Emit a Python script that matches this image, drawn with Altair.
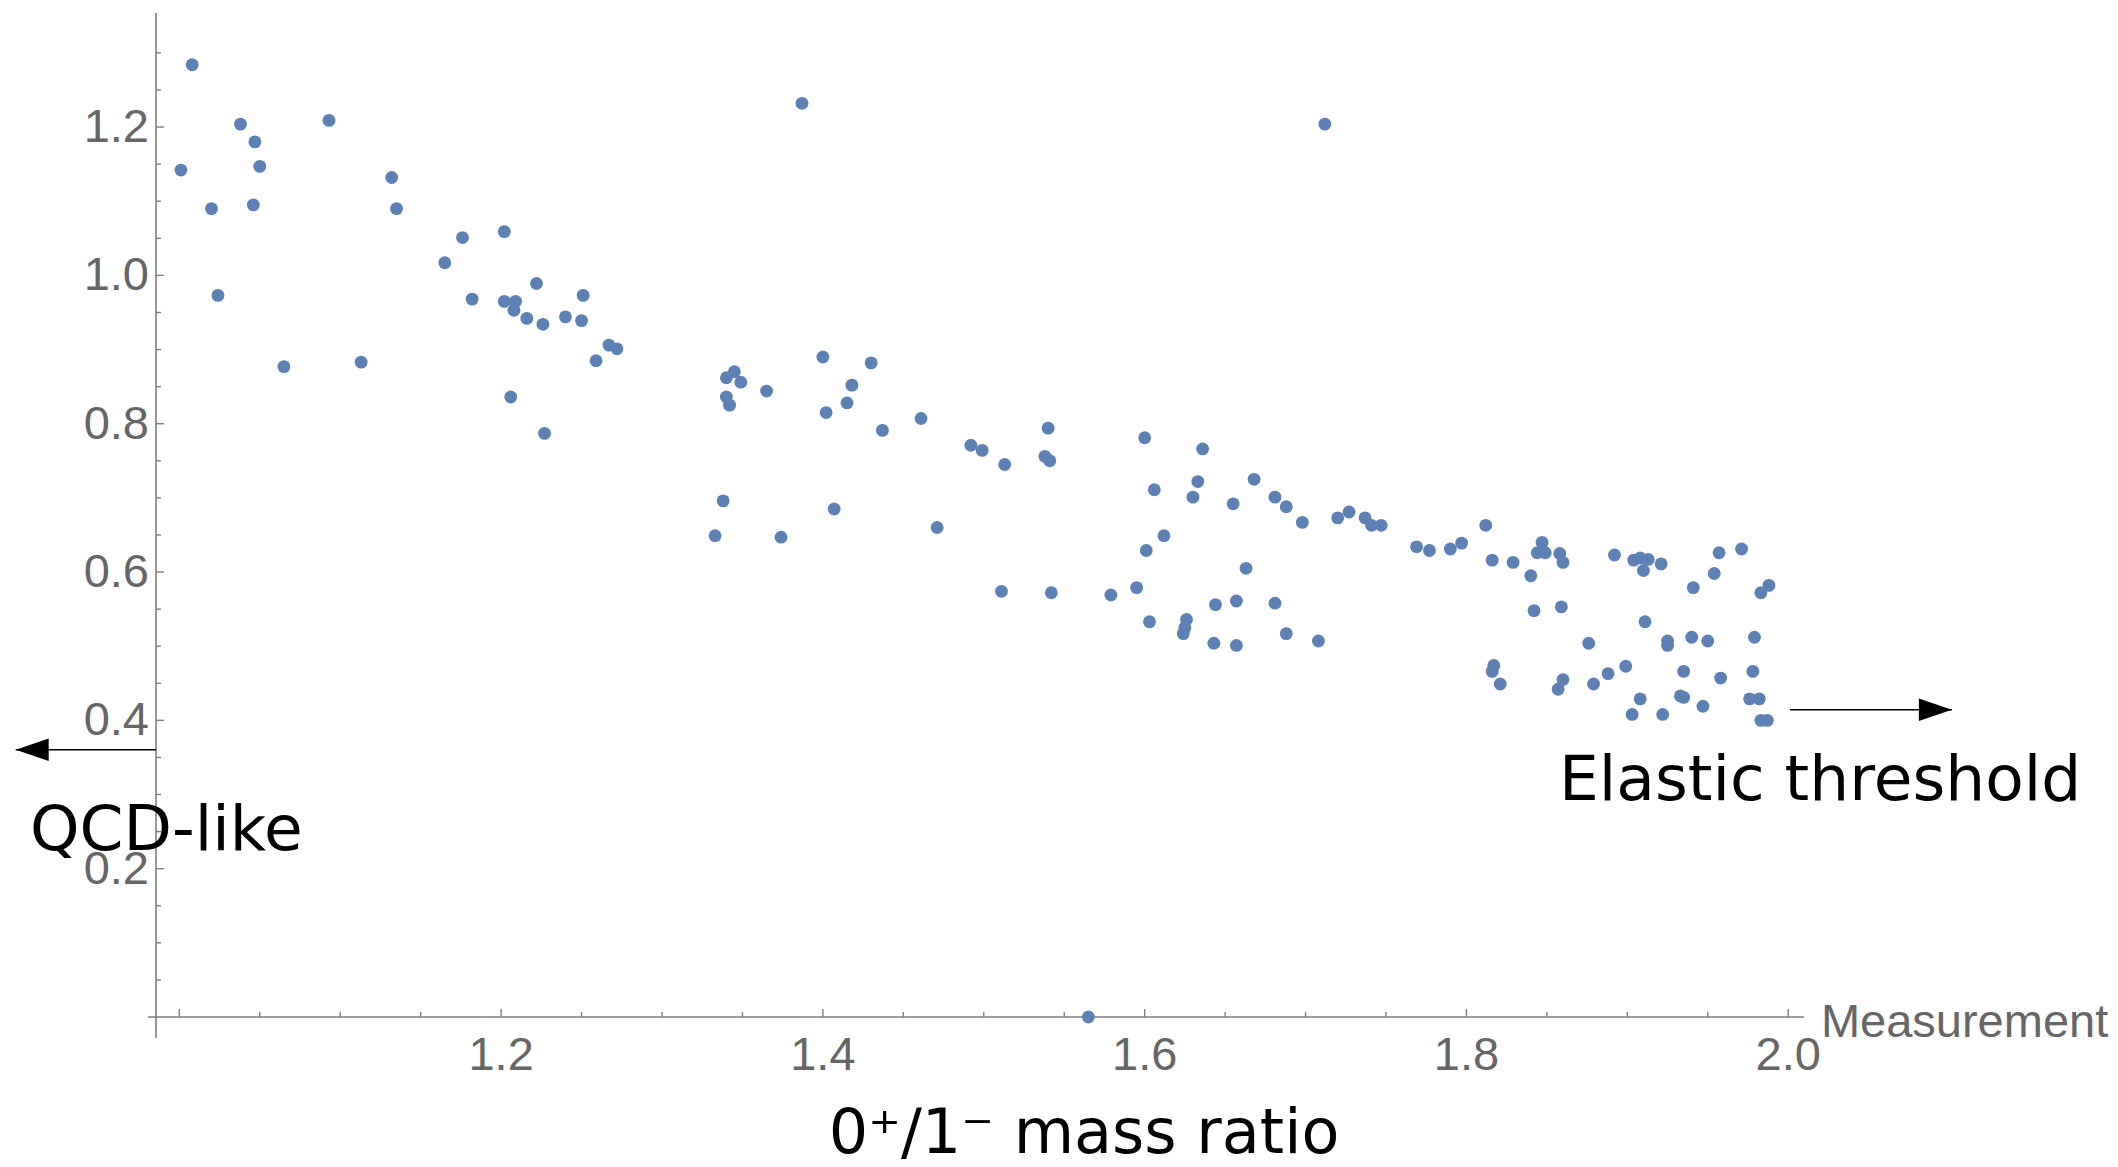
import altair as alt
import pandas as pd

# ---------------- data ----------------
mass_ratio = [
    1.008, 1.001, 1.038, 1.047, 1.050, 1.020, 1.046, 1.093, 1.024, 1.065,
    1.113, 1.132, 1.135, 1.176, 1.165, 1.202, 1.182, 1.202, 1.209, 1.208,
    1.216, 1.222, 1.226, 1.240, 1.206, 1.227, 1.251, 1.250, 1.267, 1.272,
    1.259, 1.387, 1.400, 1.430, 1.418, 1.415, 1.402, 1.437, 1.461, 1.492,
    1.499, 1.340, 1.345, 1.349, 1.365, 1.340, 1.342, 1.338, 1.333, 1.374,
    1.407, 1.471, 1.540, 1.538, 1.541, 1.513, 1.712, 1.600, 1.636, 1.633,
    1.630, 1.606, 1.655, 1.668, 1.681, 1.688, 1.698, 1.720, 1.727, 1.737,
    1.741, 1.747, 1.612, 1.601, 1.663, 1.511, 1.542, 1.579, 1.595, 1.603,
    1.626, 1.625, 1.624, 1.644, 1.657, 1.681, 1.643, 1.657, 1.688, 1.708,
    1.769, 1.777, 1.790, 1.797, 1.812, 1.816, 1.829, 1.840, 1.847, 1.844,
    1.849, 1.858, 1.860, 1.842, 1.859, 1.876, 1.817, 1.816, 1.821, 1.860,
    1.857, 1.879, 1.888, 1.899, 1.892, 1.904, 1.908, 1.913, 1.910, 1.921,
    1.911, 1.925, 1.925, 1.940, 1.950, 1.941, 1.954, 1.957, 1.971, 1.988,
    1.983, 1.979, 1.978, 1.935, 1.958, 1.908, 1.903, 1.922, 1.933, 1.935,
    1.947, 1.976, 1.982, 1.983, 1.987, 1.565,
]
measurement = [
    1.284, 1.142, 1.204, 1.180, 1.147, 1.090, 1.095, 1.209, 0.973, 0.877,
    0.883, 1.132, 1.090, 1.051, 1.017, 1.059, 0.968, 0.965, 0.965, 0.953,
    0.942, 0.989, 0.934, 0.944, 0.836, 0.787, 0.973, 0.939, 0.906, 0.901,
    0.885, 1.232, 0.890, 0.882, 0.852, 0.828, 0.815, 0.791, 0.807, 0.771,
    0.764, 0.862, 0.870, 0.856, 0.844, 0.836, 0.825, 0.696, 0.649, 0.647,
    0.685, 0.660, 0.794, 0.756, 0.750, 0.745, 1.204, 0.781, 0.766, 0.722,
    0.701, 0.711, 0.692, 0.725, 0.701, 0.688, 0.667, 0.673, 0.681, 0.673,
    0.663, 0.663, 0.649, 0.629, 0.605, 0.574, 0.572, 0.569, 0.579, 0.533,
    0.536, 0.525, 0.517, 0.556, 0.561, 0.558, 0.504, 0.501, 0.517, 0.507,
    0.634, 0.629, 0.631, 0.639, 0.663, 0.616, 0.613, 0.595, 0.640, 0.626,
    0.626, 0.625, 0.613, 0.548, 0.553, 0.504, 0.474, 0.466, 0.449, 0.455,
    0.442, 0.449, 0.463, 0.473, 0.623, 0.616, 0.619, 0.617, 0.602, 0.611,
    0.533, 0.507, 0.501, 0.512, 0.507, 0.579, 0.598, 0.626, 0.631, 0.582,
    0.572, 0.512, 0.466, 0.466, 0.457, 0.429, 0.408, 0.408, 0.433, 0.431,
    0.419, 0.429, 0.429, 0.400, 0.400, 0.000,
]

x_label_values = [1.2, 1.4, 1.6, 1.8, 2.0]
x_label_texts = ["1.2", "1.4", "1.6", "1.8", "2.0"]
y_label_values = [0.2, 0.4, 0.6, 0.8, 1.0, 1.2]
y_label_texts = ["0.2", "0.4", "0.6", "0.8", "1.0", "1.2"]
x_major_ticks = [1.0, 1.2, 1.4, 1.6, 1.8, 2.0]
x_minor_ticks = [1.05, 1.1, 1.15, 1.25, 1.3, 1.35, 1.45, 1.5, 1.55,
                 1.65, 1.7, 1.75, 1.85, 1.9, 1.95]
y_major_ticks = [0.2, 0.4, 0.6, 0.8, 1.0, 1.2]
y_minor_ticks = [0.05, 0.1, 0.15, 0.25, 0.3, 0.35, 0.45, 0.5, 0.55, 0.65,
                 0.7, 0.75, 0.85, 0.9, 0.95, 1.05, 1.1, 1.15, 1.25, 1.3]

x_axis_title = "0\u207a/1\u207b mass ratio"
y_axis_end_label = "Measurement"
left_note = "QCD-like"
right_note = "Elastic threshold"

# ---------------- layout ----------------
XMIN, XMAX = 0.9855, 2.0098
YMIN, YMAX = 0.0, 1.3538
W, H = 1648, 1004
AXIS_COLOR = "#7f7f7f"
LABEL_COLOR = "#666666"
DOT_COLOR = "#5E81B5"

xs = alt.Scale(domain=[XMIN, XMAX], nice=False, zero=False)
ys = alt.Scale(domain=[YMIN, YMAX], nice=False, zero=False)

pts = pd.DataFrame({"ratio": mass_ratio, "meas": measurement})

points = alt.Chart(pts).mark_circle(size=165, color=DOT_COLOR, opacity=1).encode(
    x=alt.X("ratio:Q", scale=xs, axis=None),
    y=alt.Y("meas:Q", scale=ys, axis=None),
)

# axis lines (Mathematica-style, slightly overshooting the origin)
axis_df = pd.DataFrame({"a": [0]})
x_axis_line = alt.Chart(axis_df).mark_rule(color=AXIS_COLOR, strokeWidth=1.6, xOffset=-8).encode(
    x=alt.XDatum(datum=XMIN, scale=xs, axis=None),
    x2=alt.X2Datum(datum=XMAX),
    y=alt.YDatum(datum=0.0, scale=ys, axis=None),
)
y_axis_line = alt.Chart(axis_df).mark_rule(color=AXIS_COLOR, strokeWidth=1.6, yOffset=21).encode(
    x=alt.XDatum(datum=XMIN, scale=xs, axis=None),
    y=alt.YDatum(datum=0.0, scale=ys, axis=None),
    y2=alt.Y2Datum(datum=YMAX),
)

def x_ticks(values, length):
    return alt.Chart(pd.DataFrame({"v": values})).mark_rule(
        color=AXIS_COLOR, strokeWidth=1.4, y2Offset=-length).encode(
        x=alt.X("v:Q", scale=xs, axis=None),
        y=alt.YDatum(datum=0.0, scale=ys, axis=None),
        y2=alt.Y2Datum(datum=0.0),
    )

def y_ticks(values, length):
    return alt.Chart(pd.DataFrame({"v": values})).mark_rule(
        color=AXIS_COLOR, strokeWidth=1.4, x2Offset=length).encode(
        y=alt.Y("v:Q", scale=ys, axis=None),
        x=alt.XDatum(datum=XMIN, scale=xs, axis=None),
        x2=alt.X2Datum(datum=XMIN),
    )

x_tick_labels = alt.Chart(pd.DataFrame({"v": x_label_values, "t": x_label_texts})).mark_text(
    align="center", baseline="alphabetic", dy=53, fontSize=47,
    font="Liberation Sans", color=LABEL_COLOR).encode(
    x=alt.X("v:Q", scale=xs, axis=None),
    y=alt.YDatum(datum=0.0, scale=ys, axis=None),
    text="t:N",
)
y_tick_labels = alt.Chart(pd.DataFrame({"v": y_label_values, "t": y_label_texts})).mark_text(
    align="right", baseline="middle", dx=-7, dy=1, fontSize=47,
    font="Liberation Sans", color=LABEL_COLOR).encode(
    y=alt.Y("v:Q", scale=ys, axis=None),
    x=alt.XDatum(datum=XMIN, scale=xs, axis=None),
    text="t:N",
)

# arrows
left_arrow = pd.DataFrame({"tip": [0.8983], "base": [XMIN], "y": [0.3604]})
right_arrow = pd.DataFrame({"tip": [2.1017], "base": [2.0011], "y": [0.4144]})

def arrow(df, path, offset):
    line = alt.Chart(df).mark_rule(color="black", strokeWidth=1.5).encode(
        x=alt.X("tip:Q", scale=xs, axis=None),
        x2="base:Q",
        y=alt.Y("y:Q", scale=ys, axis=None),
    )
    head = alt.Chart(df).mark_point(shape=path, size=1089, filled=True,
                                    color="black", opacity=1, strokeWidth=0,
                                    xOffset=offset).encode(
        x=alt.X("tip:Q", scale=xs, axis=None),
        y=alt.Y("y:Q", scale=ys, axis=None),
    )
    return line + head

arrow_left = arrow(left_arrow, "M -1 0 L 1 -0.68 L 1 0.68 Z", 16.5)
arrow_right = arrow(right_arrow, "M 1 0 L -1 -0.68 L -1 0.68 Z", -16.5)

def label(text, x, y, size, color, font, align="left"):
    df = pd.DataFrame({"t": [text], "x": [x], "y": [y]})
    return alt.Chart(df).mark_text(align=align, baseline="alphabetic",
                                   fontSize=size, color=color, font=font).encode(
        x=alt.X("x:Q", scale=xs, axis=None),
        y=alt.Y("y:Q", scale=ys, axis=None),
        text="t:N",
    )

qcd = label(left_note, 0.9072, 0.2247, 63, "black", "DejaVu Sans")
elastic = label(right_note, 1.8575, 0.2921, 63, "black", "DejaVu Sans")
meas_lbl = label(y_axis_end_label, 2.0203, -0.0275, 47, LABEL_COLOR, "Liberation Sans")
xtitle = label(x_axis_title, 1.5623, -0.1830, 62, "black", "DejaVu Sans", align="center")

chart = alt.layer(
    x_axis_line, y_axis_line,
    x_ticks(x_major_ticks, 8), x_ticks(x_minor_ticks, 5),
    y_ticks(y_major_ticks, 8), y_ticks(y_minor_ticks, 5),
    x_tick_labels, y_tick_labels,
    points,
    arrow_left, arrow_right,
    qcd, elastic, meas_lbl, xtitle,
).properties(
    width=W, height=H,
    autosize=alt.AutoSizeParams(type="none"),
    padding={"left": 156, "top": 13, "right": 314, "bottom": 150},
    background="white",
).configure_view(stroke=None)

chart.save("out.html", embed_options={"renderer": "svg", "actions": False})
